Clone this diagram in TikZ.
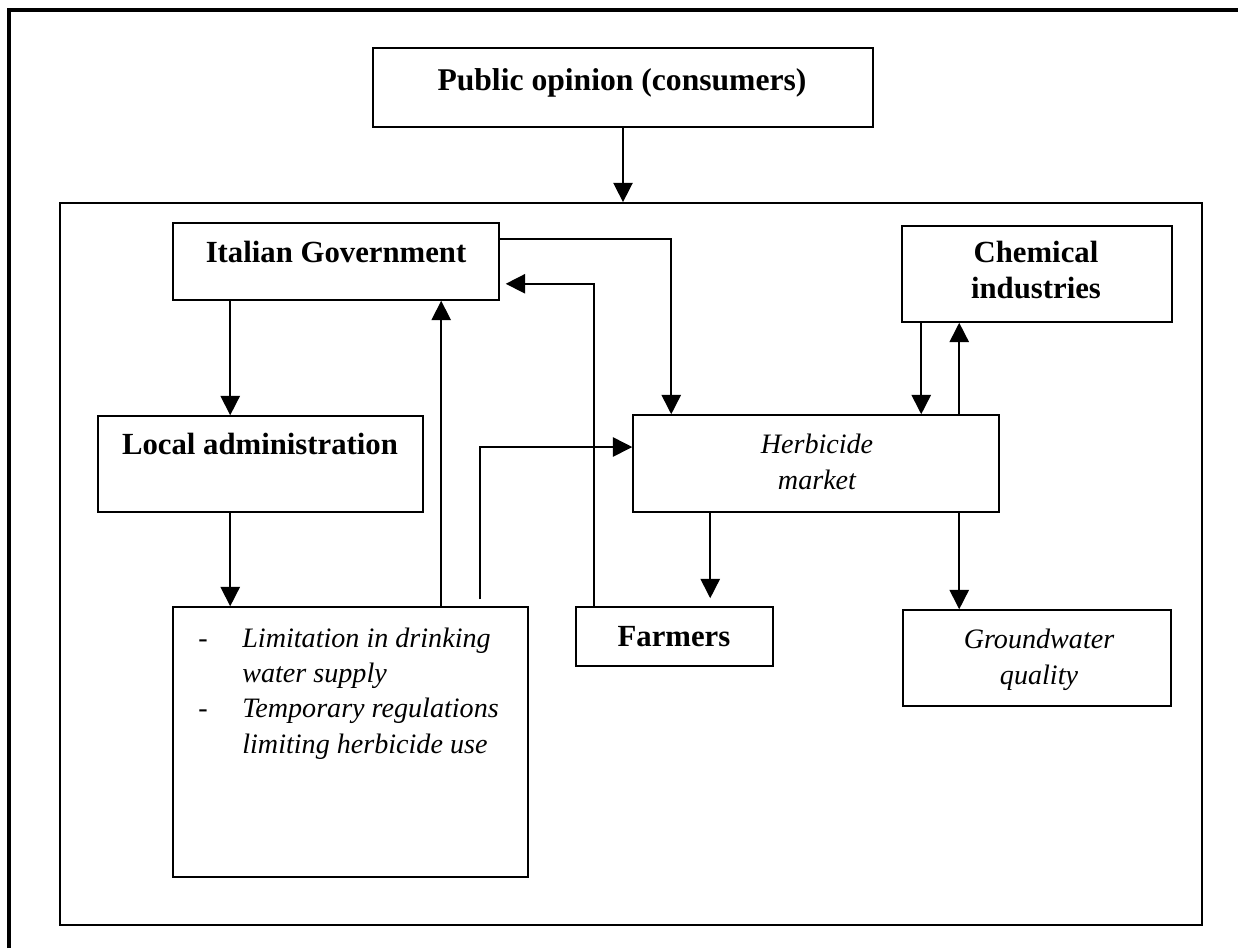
\documentclass[tikz,border=0pt]{standalone}
\usepackage{fontspec}
\setmainfont{Liberation Serif}
\usetikzlibrary{arrows.meta, positioning}
\tikzset{
  box/.style={rectangle, draw, line width=0.9pt, inner sep=0pt},
  boldtext/.style={font=\fontsize{17.5}{20}\selectfont\bfseries, inner sep=0pt, anchor=base, align=center},
  pubtext/.style={font=\fontsize{18}{21}\selectfont\bfseries, inner sep=0pt, anchor=base},
  itext/.style={font=\fontsize{16}{20.2}\selectfont\itshape, inner sep=0pt, anchor=base, align=center},
  arrow/.style={-{Triangle[length=11pt,width=11pt]}, line width=0.9pt}
}

\begin{document}
\begin{tikzpicture}[x=0.02cm, y=-0.02cm]
  \useasboundingbox (0,0) rectangle (1238,948);
  % page frame, only top and left edges show
  \draw[line width=2.3pt] (9,948) -- (9,10) -- (1238,10);

  \node[box, minimum width=10cm, minimum height=1.58cm] (pub) at (623,87.5) {};
  \node[pubtext] (pub-t) at (622,90) {Public opinion (consumers)};

  \node[box, line width=1.1pt, minimum width=22.84cm, minimum height=14.44cm] (frame) at (631,564) {};

  \node[box, minimum width=6.52cm, minimum height=1.54cm] (gov) at (336,261.5) {};
  \node[boldtext] (gov-t) at (336,262) {Italian Government};

  \node[box, minimum width=6.5cm, minimum height=1.92cm] (locadm) at (260.5,464) {};
  \node[boldtext] (locadm-t) at (260,454) {Local administration};

  \node[box, minimum width=7.1cm, minimum height=5.4cm] (limit) at (350.5,742) {};
  \node[itext, anchor=base west] (limit-t) at (198,647) {\begin{tabular}[t]{@{}p{0.88cm}@{}l@{}}
    \upshape - & Limitation in drinking\\
               & water supply\\
    \upshape - & Temporary regulations\\
               & limiting herbicide use
  \end{tabular}};

  \node[box, minimum width=3.94cm, minimum height=1.18cm] (farmers) at (674.5,636.5) {};
  \node[boldtext] (farmers-t) at (674,646) {Farmers};

  % two-line labels sit on the baseline of their last line
  \node[box, minimum width=7.32cm, minimum height=1.94cm] (market) at (816,463.5) {};
  \node[itext] (market-t) at (817,489) {Herbicide\\market};

  \node[box, minimum width=5.4cm, minimum height=1.92cm] (chem) at (1037,274) {};
  \node[boldtext] (chem-t) at (1036,298) {Chemical\\industries};

  \node[box, minimum width=5.36cm, minimum height=1.92cm] (ground) at (1037,658) {};
  \node[itext] (ground-t) at (1039,684) {Groundwater\\quality};

  % tap points on the box edges
  \coordinate (admtop) at ([xshift=2.66cm]locadm.north west);
  \coordinate (admbot) at ([xshift=2.66cm]locadm.south west);
  \coordinate (upgov) at ([xshift=5.38cm]limit.north west);
  \coordinate (limtap) at ([xshift=6.16cm, yshift=0.14cm]limit.north west);
  \coordinate (mkfarm) at ([xshift=1.56cm]market.south west);
  \coordinate (mkgw) at ([xshift=1.14cm]ground.north west);
  \coordinate (chdown) at ([xshift=0.4cm]chem.south west);
  \coordinate (chup) at ([xshift=1.16cm]chem.south west);

  \draw[arrow] (pub.south) -- (pub.south |- frame.north);
  \draw[arrow] ([yshift=-0.34cm]gov.north east) -| ([xshift=0.78cm]market.north west);
  \draw[arrow, shorten >=0.12cm] ([xshift=0.38cm]farmers.north west) |- ([yshift=0.34cm]gov.south east);
  \draw[arrow] (upgov) -- (upgov |- gov.south);
  \draw[arrow] (limtap) |- ([yshift=0.33cm]market.west);
  \draw[arrow] (admtop |- gov.south) -- (admtop);
  \draw[arrow] (admbot) -- (admbot |- limit.north);
  \draw[arrow, shorten >=0.16cm] (mkfarm) -- (mkfarm |- farmers.north);
  \draw[arrow] (mkgw |- market.south) -- (mkgw);
  \draw[arrow] (chdown) -- (chdown |- market.north);
  \draw[arrow] (chup |- market.north) -- (chup);
\end{tikzpicture}
\end{document}
